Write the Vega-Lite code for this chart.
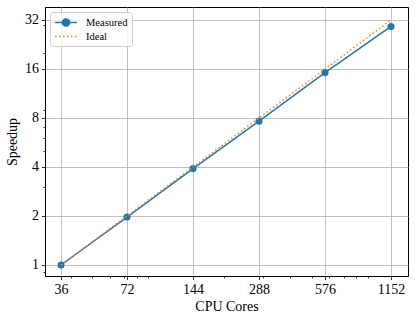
{
  "$schema": "https://vega.github.io/schema/vega-lite/v6.json",
  "autosize": {"type": "none"},
  "padding": {"left": 45, "top": 7, "right": 7, "bottom": 45},
  "width": 363,
  "height": 269,
  "background": "white",
  "config": {
    "view": {"stroke": "black", "strokeWidth": 1},
    "font": "Liberation Serif",
    "legend": {"labelFont": "Liberation Serif"},
    "axis": {
      "domainColor": "black",
      "domainWidth": 1,
      "tickColor": "black",
      "tickWidth": 0.8,
      "gridColor": "#b0b0b0",
      "gridWidth": 0.8,
      "labelFont": "Liberation Serif",
      "labelFontSize": 14,
      "labelColor": "black",
      "titleFont": "Liberation Serif",
      "titleFontSize": 14,
      "titleFontWeight": "normal",
      "titleColor": "black",
      "labelOverlap": false,
      "labelFlush": false
    }
  },
  "data": {
    "values": [
      {"cores": 36, "speedup": 1, "series": "Measured"},
      {"cores": 72, "speedup": 1.97, "series": "Measured"},
      {"cores": 144, "speedup": 3.91, "series": "Measured"},
      {"cores": 288, "speedup": 7.65, "series": "Measured"},
      {"cores": 576, "speedup": 15.2, "series": "Measured"},
      {"cores": 1152, "speedup": 29.2, "series": "Measured"},
      {"cores": 36, "speedup": 1, "series": "Ideal"},
      {"cores": 72, "speedup": 2, "series": "Ideal"},
      {"cores": 144, "speedup": 4, "series": "Ideal"},
      {"cores": 288, "speedup": 8, "series": "Ideal"},
      {"cores": 576, "speedup": 16, "series": "Ideal"},
      {"cores": 1152, "speedup": 32, "series": "Ideal"}
    ]
  },
  "encoding": {
    "x": {
      "field": "cores",
      "type": "quantitative",
      "title": "CPU Cores",
      "scale": {"type": "log", "base": 2, "domain": [30.43, 1377], "nice": false},
      "axis": {
        "values": [36, 40, 50, 60, 70, 72, 80, 90, 144, 200, 288, 300, 400, 500, 576, 600, 700, 800, 900, 1152],
        "format": "d",
        "labelExpr": "indexof([36,72,144,288,576,1152], datum.value) >= 0 ? datum.label : ''",
        "tickSize": {"condition": {"test": "indexof([36,72,144,288,576,1152], datum.value) >= 0", "value": 3.5}, "value": 2},
        "gridOpacity": {"condition": {"test": "indexof([36,72,144,288,576,1152], datum.value) >= 0", "value": 1}, "value": 0},
        "labelPadding": 3,
        "titlePadding": 3
      }
    },
    "y": {
      "field": "speedup",
      "type": "quantitative",
      "title": "Speedup",
      "scale": {"type": "log", "base": 2, "domain": [0.8558, 38.46], "nice": false},
      "axis": {
        "values": [0.9, 1, 2, 3, 4, 5, 6, 7, 8, 9, 16, 20, 30, 32],
        "format": "d",
        "labelExpr": "indexof([1,2,4,8,16,32], datum.value) >= 0 ? datum.label : ''",
        "tickSize": {"condition": {"test": "indexof([1,2,4,8,16,32], datum.value) >= 0", "value": 3.5}, "value": 2},
        "gridOpacity": {"condition": {"test": "indexof([1,2,4,8,16,32], datum.value) >= 0", "value": 1}, "value": 0},
        "labelPadding": 3,
        "titlePadding": 5
      }
    },
    "color": {
      "field": "series",
      "type": "nominal",
      "scale": {"domain": ["Measured", "Ideal"], "range": ["#1f77b4", "#ff7f0e"]},
      "legend": {
        "title": null,
        "orient": "top-left",
        "offset": 5,
        "padding": 4,
        "strokeColor": "#cccccc",
        "fillColor": "rgba(255,255,255,0.8)",
        "cornerRadius": 3,
        "labelFont": "Liberation Serif",
        "labelFontSize": 10.5,
        "labelColor": "black",
        "symbolType": "stroke",
        "symbolSize": 121,
        "symbolStrokeWidth": 1.5,
        "rowPadding": -3,
        "labelOffset": 19,
        "encode": {
          "symbols": {
            "update": {
              "shape": {"signal": "datum.value == 'Measured' ? 'M-1,0H3M1.65,0A0.65,0.65 0 1,1 0.35,0A0.65,0.65 0 1,1 1.65,0Z' : 'M-1,0H3'"},
              "fill": {"signal": "datum.value == 'Measured' ? '#1f77b4' : 'transparent'"},
              "strokeDash": {"signal": "datum.value == 'Measured' ? [1,0] : [1.5,2.5]"}
            }
          }
        }
      }
    }
  },
  "layer": [
    {
      "transform": [{"filter": "datum.series == 'Measured'"}],
      "mark": {"type": "line", "strokeWidth": 1.5, "point": {"filled": true, "size": 50}}
    },
    {
      "transform": [{"filter": "datum.series == 'Ideal'"}],
      "mark": {"type": "line", "strokeWidth": 1.5, "strokeDash": [1.5, 2.5], "strokeCap": "butt"}
    }
  ]
}
